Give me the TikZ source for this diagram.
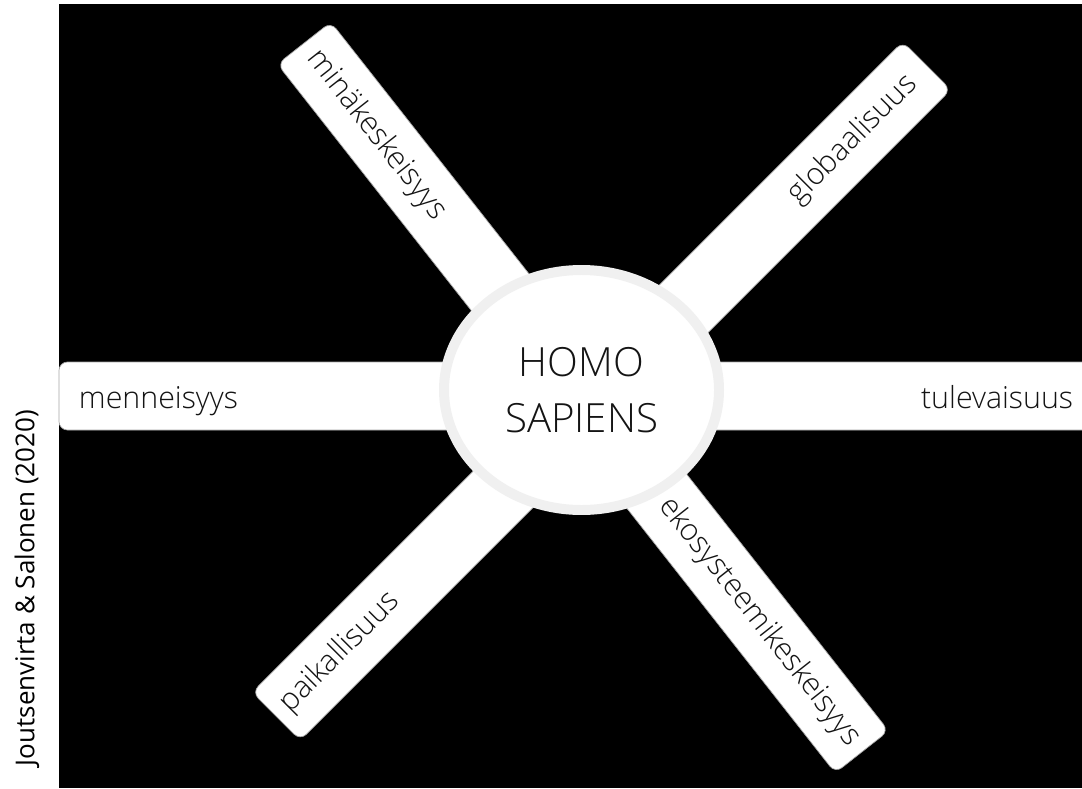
\documentclass[tikz,border=0pt]{standalone}
\usepackage{fontspec}
\setmainfont{Open Sans}
\newfontfamily\thinfont{Open Sans Light}
\usetikzlibrary{calc,shapes.geometric}
\definecolor{ink}{RGB}{20,20,20}
\definecolor{rim}{RGB}{240,240,240}
\definecolor{edge}{RGB}{165,165,165}

\begin{document}
\begin{tikzpicture}[
  x=0.025cm, y=-0.025cm,
  arm/.style={draw=edge, fill=white, line width=0.5pt, rounded corners=6pt,
    minimum height=68*0.025cm, inner sep=0pt},
  lbl/.style={font=\thinfont\fontsize{21.6}{25}\selectfont, text=ink, inner sep=0pt},
  hub/.style={ellipse, fill=white, draw=rim, line width=7.1pt,
    minimum width=275*0.025cm, minimum height=240*0.025cm, inner sep=0pt,
    align=center, font=\thinfont\fontsize{28.6}{39.7}\selectfont, text=ink}]

\useasboundingbox (0,0) rectangle (1082,788);
\clip (0,0) rectangle (1082,788);
\fill[black] (59,4) rectangle (1082,788);

% the three arms
\node[arm, minimum width=1034*0.025cm] (time) at (576,396) {};
\node[arm, minimum width=902*0.025cm, rotate=-51.8] (focus) at (583,397.5) {};
\node[arm, minimum width=920*0.025cm, rotate=45] (scale) at (601.5,391) {};

% arm labels
\node[lbl, anchor=base west] (past) at ($(time.west)+(20,12)$) {menneisyys};
\node[lbl, anchor=base east] (future) at ($(time.east)+(-20,12)$) {tulevaisuus};
\node[lbl, rotate=-51.8, anchor=west] (self) at ($(focus.west)!0.35cm!(focus.east)$) {minäkeskeisyys};
\node[lbl, rotate=-51.8, anchor=east] (eco) at ($(focus.east)!0.3cm!(focus.west)$) {ekosysteemikeskeisyys};
\node[lbl, rotate=45, anchor=east] (global) at ($(scale.east)!0.5cm!(scale.west)$) {globaalisuus};
\node[lbl, rotate=45, anchor=west] (local) at ($(scale.west)!0.3cm!(scale.east)$) {paikallisuus};

% centre
\node[hub] (homo) at (581.5,390) {HOMO\\SAPIENS};

% source
\node[rotate=90, inner sep=0pt, font=\fontsize{18.5}{22}\selectfont] (credit) at (27,588) {Joutsenvirta \& Salonen (2020)};
\end{tikzpicture}
\end{document}
